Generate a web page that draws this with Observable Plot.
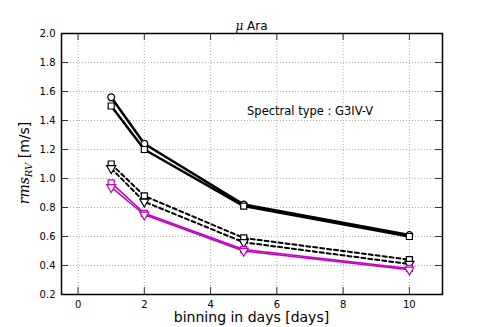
<!DOCTYPE html>
<html>
<head>
<meta charset="utf-8">
<script src="https://cdn.jsdelivr.net/npm/d3@7"></script>
<script src="https://cdn.jsdelivr.net/npm/@observablehq/plot@0.6"></script>
<style>
  html, body { margin: 0; padding: 0; background: white; }
  #chart svg { display: block; }
</style>
</head>
<body>
<div id="chart"></div>
<script>
// ---- data ----
const days = [1, 2, 5, 10];
const solidCircle   = [1.56, 1.24, 0.82, 0.61];
const solidSquare   = [1.50, 1.20, 0.81, 0.60];
const dashedSquare  = [1.10, 0.88, 0.59, 0.44];
const dashedTri     = [1.07, 0.84, 0.56, 0.41];
const magentaSquare = [0.97, 0.76, 0.51, 0.38];
const magentaTri    = [0.94, 0.75, 0.50, 0.37];
const xTicks = [0, 2, 4, 6, 8, 10];
const yTicks = [0.2, 0.4, 0.6, 0.8, 1.0, 1.2, 1.4, 1.6, 1.8, 2.0];
const titleStar = "Ara";
const annotation = "Spectral type : G3IV-V";
const xLabel = "binning in days [days]";

const W = 491, H = 327;
const mL = 61, mR = 49, mT = 33, mB = 33;
const plotW = W - mL - mR, plotH = H - mT - mB;

const triangleDown = {
  draw(context, size) {
    const s3 = Math.sqrt(3);
    const y = -Math.sqrt(size / (s3 * 3));
    context.moveTo(0, -y * 2);
    context.lineTo(-s3 * y, y);
    context.lineTo(s3 * y, y);
    context.closePath();
  }
};

const table = vals => days.map((d, i) => ({x: d, y: vals[i]}));

const series = [
  {vals: dashedSquare, color: "black", dash: "4,3", width: 2, symbol: "square"},
  {vals: dashedTri, color: "black", dash: "4,3", width: 2, symbol: triangleDown},
  {vals: magentaSquare, color: "#bf00bf", dash: null, width: 1.5, symbol: "square"},
  {vals: magentaTri, color: "#bf00bf", dash: null, width: 1.5, symbol: triangleDown},
  {vals: solidCircle, color: "black", dash: null, width: 2.5, symbol: "circle"},
  {vals: solidSquare, color: "black", dash: null, width: 2.5, symbol: "square"}
];

const marks = [
  Plot.gridX(xTicks, {stroke: "#999", strokeOpacity: 1, strokeWidth: 0.8, strokeDasharray: "1,2"}),
  Plot.gridY(yTicks.slice(1, -1), {stroke: "#999", strokeOpacity: 1, strokeWidth: 0.8, strokeDasharray: "1,2"}),
  // inward ticks on all four sides
  Plot.tickX(xTicks, {x: d => d, insetTop: plotH - 7, stroke: "#333", strokeWidth: 1}),
  Plot.tickX(xTicks, {x: d => d, insetBottom: plotH - 7, stroke: "#333", strokeWidth: 1}),
  Plot.tickY(yTicks, {y: d => d, insetRight: plotW - 7, stroke: "#333", strokeWidth: 1}),
  Plot.tickY(yTicks, {y: d => d, insetLeft: plotW - 7, stroke: "#333", strokeWidth: 1}),
  Plot.axisX(xTicks, {tickSize: 0, tickPadding: 6, fontSize: 10, label: null}),
  Plot.axisY(yTicks, {tickSize: 0, tickPadding: 6, fontSize: 10, label: null, tickFormat: d3.format(".1f")}),
  Plot.text([annotation], {x: 5.1, y: 1.462, text: d => d, textAnchor: "start", fontSize: 11.5, fill: "black"})
];

for (const s of series) {
  const data = table(s.vals);
  marks.push(Plot.line(data, {x: "x", y: "y", stroke: s.color, strokeWidth: s.width,
    strokeDasharray: s.dash || undefined}));
  marks.push(Plot.dot(data, {x: "x", y: "y", symbol: () => s.symbol, r: 3.4,
    fill: "white", stroke: s.color, strokeWidth: 1.2}));
}
marks.push(Plot.frame({stroke: "black", strokeWidth: 1.5}));

const chart = Plot.plot({
  width: W, height: H,
  marginLeft: mL, marginRight: mR, marginTop: mT, marginBottom: mB,
  style: {fontFamily: "DejaVu Sans", fontSize: "10px", background: "white", color: "black"},
  x: {domain: [-0.5, 11]},
  y: {domain: [0.2, 2.0]},
  symbol: {type: "identity"},
  marks
});
document.getElementById("chart").appendChild(chart);

// text labels
const svg = d3.select(chart);
const title = svg.append("text")
  .attr("x", (mL + W - mR) / 2).attr("y", 30)
  .attr("text-anchor", "middle")
  .attr("font-family", "DejaVu Sans").attr("font-size", 12).attr("fill", "black");
title.append("tspan").attr("font-family", "DejaVu Serif").attr("font-style", "italic").text("μ");
title.append("tspan").text(" " + titleStar);

svg.append("text")
  .attr("x", (mL + W - mR) / 2).attr("y", 322)
  .attr("text-anchor", "middle")
  .attr("font-family", "DejaVu Sans").attr("font-size", 14).attr("fill", "black")
  .text(xLabel);

const yl = svg.append("text")
  .attr("transform", "translate(29,163) rotate(-90)")
  .attr("text-anchor", "middle")
  .attr("font-family", "DejaVu Sans").attr("font-size", 14).attr("fill", "black");
yl.append("tspan").attr("font-family", "DejaVu Serif").attr("font-style", "italic").text("rms");
yl.append("tspan").attr("font-family", "DejaVu Serif").attr("font-style", "italic")
  .attr("font-size", 10).attr("dy", 3).text("RV");
yl.append("tspan").attr("dy", -3).text(" [m/s]");
</script>
</body>
</html>
